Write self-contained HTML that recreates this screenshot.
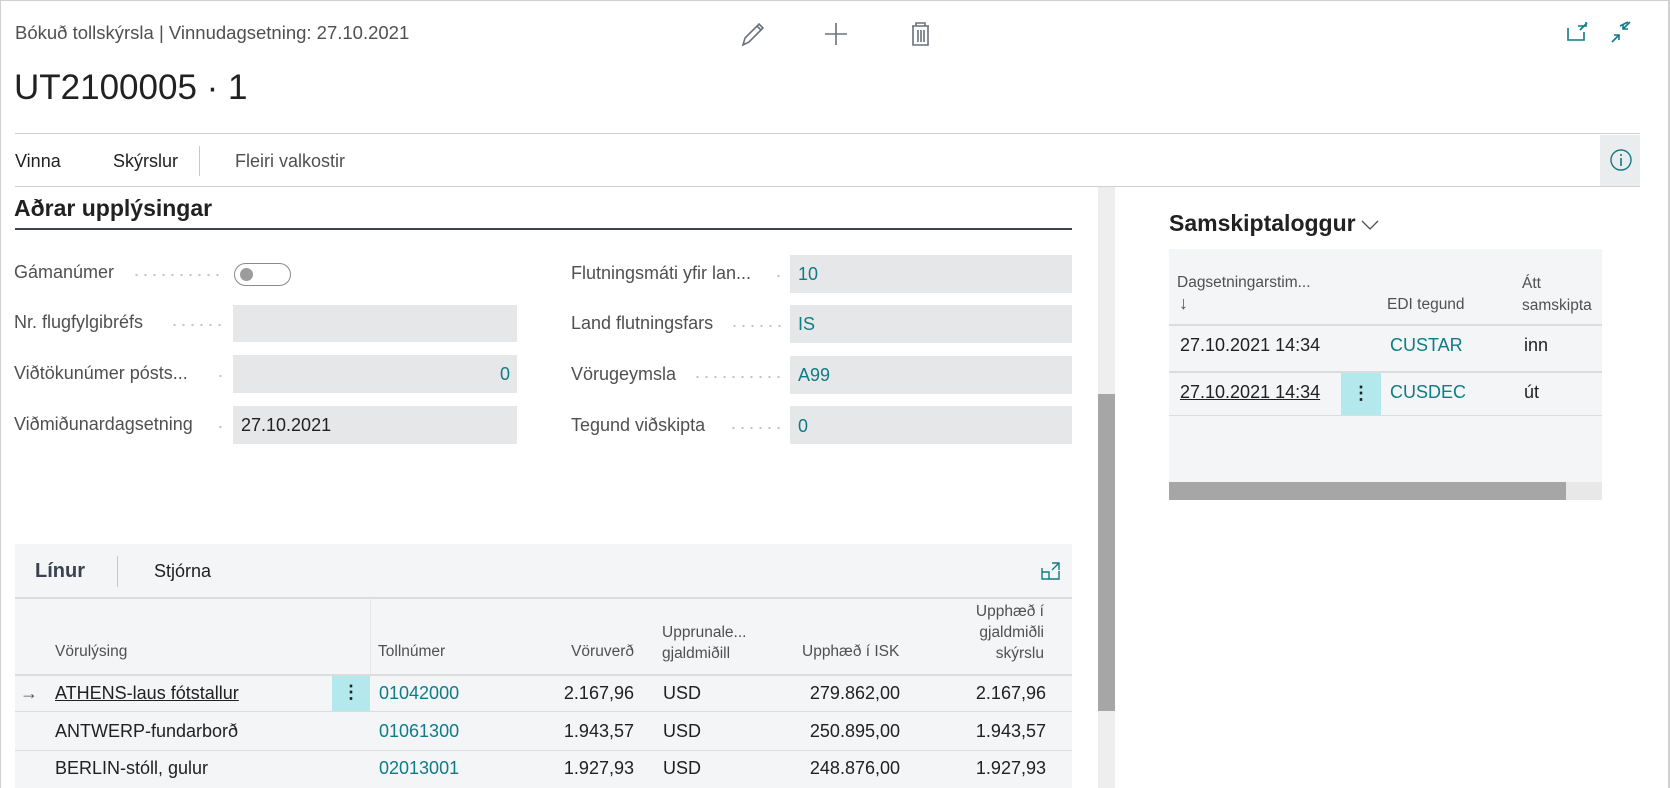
<!DOCTYPE html>
<html><head><meta charset="utf-8"><style>
*{margin:0;padding:0;box-sizing:border-box}
body{width:1670px;height:788px;overflow:hidden;background:#fff;font-family:"Segoe UI","Liberation Sans",sans-serif;color:#212121;position:relative}
.a{position:absolute;white-space:nowrap}
.lbl{font-size:18px;color:#505050}
.box{position:absolute;background:#e6e7e9}
.teal{color:#0f7b86}
.dots{position:absolute;height:4px;background-image:radial-gradient(circle,#c0c0c0 1px,transparent 1.3px);background-size:9px 4px}
.hl{position:absolute;height:1px;background:#d6d6d6}
.hd{font-size:15.5px;color:#505050}
.cell{font-size:18px}
</style></head><body>
<div class="a" style="left:0;top:0;width:1670px;height:1px;background:#d0d0d0"></div>
<div class="a" style="left:0;top:0;width:1px;height:788px;background:#d0d0d0"></div>
<div class="a" style="left:1668px;top:0;width:2px;height:788px;background:#d0d0d0"></div>

<div class="a" style="left:15px;top:22px;font-size:18.5px;color:#505050">Bókuð tollskýrsla | Vinnudagsetning: 27.10.2021</div>
<div class="a" style="left:14px;top:68px;font-size:35px;font-weight:300;color:#212121">UT2100005 · 1</div>

<svg class="a" style="left:740px;top:20px" width="200" height="28">
<g fill="none" stroke="#6b717a" stroke-width="1.6">
<path d="M3 25 L5 18 L19 4 L23 8 L9 22 Z M17 6 L21 10"/>
<path d="M96 3 V25 M85 14 H107"/>
<path d="M172 6 H189 M176 6 V3 H185 V6 M173 6 V25 H188 V6 M178 10 V22 M181 10 V22 M184 10 V22"/>
</g></svg>
<svg class="a" style="left:1566px;top:20px" width="70" height="28">
<g fill="none" stroke="#0f7b86" stroke-width="1.6">
<path d="M2 8 V20 H18 V12 M12 6 H20 V2 M14 10 L21 3"/>
<path d="M54 6 L62 2 M64 2 L57 9 M57 4 V9 H62 M46 22 L53 15 M48 15 H53 V20"/>
</g></svg>

<div class="hl" style="left:15px;top:133px;width:1625px;background:#d0d0d0"></div>
<div class="a" style="left:15px;top:151px;font-size:18px">Vinna</div>
<div class="a" style="left:113px;top:151px;font-size:18px">Skýrslur</div>
<div class="a" style="left:199px;top:146px;width:1px;height:30px;background:#c8c8c8"></div>
<div class="a" style="left:235px;top:151px;font-size:18px;color:#505050">Fleiri valkostir</div>
<div class="a" style="left:1600px;top:135px;width:40px;height:51px;background:#ebecee"></div>
<svg class="a" style="left:1609px;top:148px" width="24" height="24"><circle cx="12" cy="12" r="10" fill="none" stroke="#0f7b86" stroke-width="1.4"/><path d="M12 10 V18 M12 6 V8" stroke="#0f7b86" stroke-width="1.6"/></svg>
<div class="hl" style="left:15px;top:186px;width:1625px;background:#d0d0d0"></div>

<div class="a" style="left:1098px;top:187px;width:17px;height:601px;background:#eeeeee"></div>
<div class="a" style="left:1098px;top:394px;width:17px;height:317px;background:#a6a6a6"></div>

<div class="a" style="left:14px;top:195px;font-size:23px;font-weight:600">Aðrar upplýsingar</div>
<div class="a" style="left:15px;top:228px;width:1057px;height:1.5px;background:#3c4250"></div>

<div class="a lbl" style="left:14px;top:262px">Gámanúmer</div>
<div class="dots" style="left:132px;top:273px;width:90px"></div>
<div class="a" style="left:234px;top:263px;width:57px;height:23px;border:1px solid #8a8a8a;border-radius:12px"></div>
<div class="a" style="left:240px;top:268px;width:13px;height:13px;border-radius:7px;background:#9c9c9c"></div>

<div class="a lbl" style="left:14px;top:312px">Nr. flugfylgibréfs</div>
<div class="dots" style="left:170px;top:323px;width:54px"></div>
<div class="box" style="left:233px;top:305px;width:284px;height:37px"></div>

<div class="a lbl" style="left:14px;top:363px">Viðtökunúmer pósts...</div>
<div class="dots" style="left:216px;top:374px;width:9px"></div>
<div class="box" style="left:233px;top:355px;width:284px;height:38px"></div>
<div class="a teal" style="left:500px;top:364px;font-size:18px">0</div>

<div class="a lbl" style="left:14px;top:414px">Viðmiðunardagsetning</div>
<div class="dots" style="left:216px;top:425px;width:9px"></div>
<div class="box" style="left:233px;top:406px;width:284px;height:38px"></div>
<div class="a" style="left:241px;top:415px;font-size:18px">27.10.2021</div>

<div class="a lbl" style="left:571px;top:263px">Flutningsmáti yfir lan...</div>
<div class="dots" style="left:774px;top:274px;width:9px"></div>
<div class="box" style="left:790px;top:255px;width:282px;height:38px"></div>
<div class="a teal" style="left:798px;top:264px;font-size:18px">10</div>

<div class="a lbl" style="left:571px;top:313px">Land flutningsfars</div>
<div class="dots" style="left:730px;top:324px;width:54px"></div>
<div class="box" style="left:790px;top:305px;width:282px;height:38px"></div>
<div class="a teal" style="left:798px;top:314px;font-size:18px">IS</div>

<div class="a lbl" style="left:571px;top:364px">Vörugeymsla</div>
<div class="dots" style="left:693px;top:375px;width:90px"></div>
<div class="box" style="left:790px;top:356px;width:282px;height:38px"></div>
<div class="a teal" style="left:798px;top:365px;font-size:18px">A99</div>

<div class="a lbl" style="left:571px;top:415px">Tegund viðskipta</div>
<div class="dots" style="left:729px;top:426px;width:54px"></div>
<div class="box" style="left:790px;top:406px;width:282px;height:38px"></div>
<div class="a teal" style="left:798px;top:416px;font-size:18px">0</div>

<!-- Lines -->
<div class="a" style="left:15px;top:544px;width:1057px;height:244px;background:#f4f5f7"></div>
<div class="a" style="left:35px;top:560px;font-size:20px;font-weight:600;color:#3c4250">Línur</div>
<div class="a" style="left:117px;top:556px;width:1px;height:31px;background:#c8c8c8"></div>
<div class="a" style="left:154px;top:561px;font-size:18px">Stjórna</div>
<svg class="a" style="left:1040px;top:560px" width="22" height="22"><path d="M2 8 V19 H19 V11 M2 12 H9 V19 M12 3 H19 V10 M19 3 L12 10" fill="none" stroke="#0f7b86" stroke-width="1.4"/></svg>
<div class="hl" style="left:15px;top:597px;width:1057px;background:#dcdcdc;height:2px"></div>
<div class="a" style="left:370px;top:599px;width:1px;height:75px;background:#e6e6e6"></div>
<div class="a hd" style="left:55px;top:643px">Vörulýsing</div>
<div class="a hd" style="left:378px;top:643px">Tollnúmer</div>
<div class="a hd" style="left:540px;top:643px;width:94px;text-align:right">Vöruverð</div>
<div class="a hd" style="left:662px;top:622px;line-height:21px">Upprunale...<br>gjaldmiðill</div>
<div class="a hd" style="left:802px;top:643px">Upphæð í ISK</div>
<div class="a hd" style="left:940px;top:601px;width:104px;text-align:right;line-height:21px">Upphæð í<br>gjaldmiðli<br>skýrslu</div>
<div class="hl" style="left:15px;top:674px;width:1057px;background:#dcdcdc;height:2px"></div>

<div class="a" style="left:20px;top:683px;font-size:18px;color:#505050">→</div>
<div class="a cell" style="left:55px;top:683px;text-decoration:underline">ATHENS-laus fótstallur</div>
<div class="a" style="left:332px;top:676px;width:38px;height:35px;background:#b3e8ec;text-align:center;font-size:18px;line-height:33px;font-weight:bold">⋮</div>
<div class="a cell teal" style="left:379px;top:683px">01042000</div>
<div class="a cell" style="left:530px;top:683px;width:104px;text-align:right">2.167,96</div>
<div class="a cell" style="left:663px;top:683px">USD</div>
<div class="a cell" style="left:760px;top:683px;width:140px;text-align:right">279.862,00</div>
<div class="a cell" style="left:920px;top:683px;width:126px;text-align:right">2.167,96</div>
<div class="hl" style="left:15px;top:711px;width:1057px;background:#dcdcdc"></div>

<div class="a cell" style="left:55px;top:721px">ANTWERP-fundarborð</div>
<div class="a cell teal" style="left:379px;top:721px">01061300</div>
<div class="a cell" style="left:530px;top:721px;width:104px;text-align:right">1.943,57</div>
<div class="a cell" style="left:663px;top:721px">USD</div>
<div class="a cell" style="left:760px;top:721px;width:140px;text-align:right">250.895,00</div>
<div class="a cell" style="left:920px;top:721px;width:126px;text-align:right">1.943,57</div>
<div class="hl" style="left:15px;top:750px;width:1057px;background:#dcdcdc"></div>

<div class="a cell" style="left:55px;top:758px">BERLIN-stóll, gulur</div>
<div class="a cell teal" style="left:379px;top:758px">02013001</div>
<div class="a cell" style="left:530px;top:758px;width:104px;text-align:right">1.927,93</div>
<div class="a cell" style="left:663px;top:758px">USD</div>
<div class="a cell" style="left:760px;top:758px;width:140px;text-align:right">248.876,00</div>
<div class="a cell" style="left:920px;top:758px;width:126px;text-align:right">1.927,93</div>

<!-- Right panel -->
<div class="a" style="left:1169px;top:210px;font-size:23px;font-weight:600">Samskiptaloggur</div>
<svg class="a" style="left:1360px;top:218px" width="20" height="14"><path d="M2 3 L10 11 L18 3" fill="none" stroke="#505050" stroke-width="1.3"/></svg>
<div class="a" style="left:1169px;top:249px;width:433px;height:251px;background:#f4f5f7"></div>
<div class="a hd" style="left:1177px;top:274px">Dagsetningarstim...</div>
<div class="a hd" style="left:1179px;top:293px;font-size:18px">↓</div>
<div class="a hd" style="left:1387px;top:296px">EDI tegund</div>
<div class="a hd" style="left:1522px;top:273px;line-height:22px">Átt<br>samskipta</div>
<div class="hl" style="left:1169px;top:324px;width:433px;background:#dcdcdc;height:2px"></div>
<div class="a cell" style="left:1180px;top:335px">27.10.2021 14:34</div>
<div class="a cell teal" style="left:1390px;top:335px">CUSTAR</div>
<div class="a cell" style="left:1524px;top:335px">inn</div>
<div class="hl" style="left:1169px;top:371px;width:433px;background:#dcdcdc;height:2px"></div>
<div class="a cell" style="left:1180px;top:382px;text-decoration:underline">27.10.2021 14:34</div>
<div class="a" style="left:1341px;top:373px;width:40px;height:42px;background:#b3e8ec;text-align:center;font-size:18px;line-height:40px;font-weight:bold">⋮</div>
<div class="a cell teal" style="left:1390px;top:382px">CUSDEC</div>
<div class="a cell" style="left:1524px;top:382px">út</div>
<div class="hl" style="left:1169px;top:415px;width:433px;background:#dcdcdc"></div>
<div class="a" style="left:1169px;top:482px;width:433px;height:18px;background:#e8e8e8"></div>
<div class="a" style="left:1169px;top:482px;width:397px;height:18px;background:#a6a6a6"></div>
</body></html>
